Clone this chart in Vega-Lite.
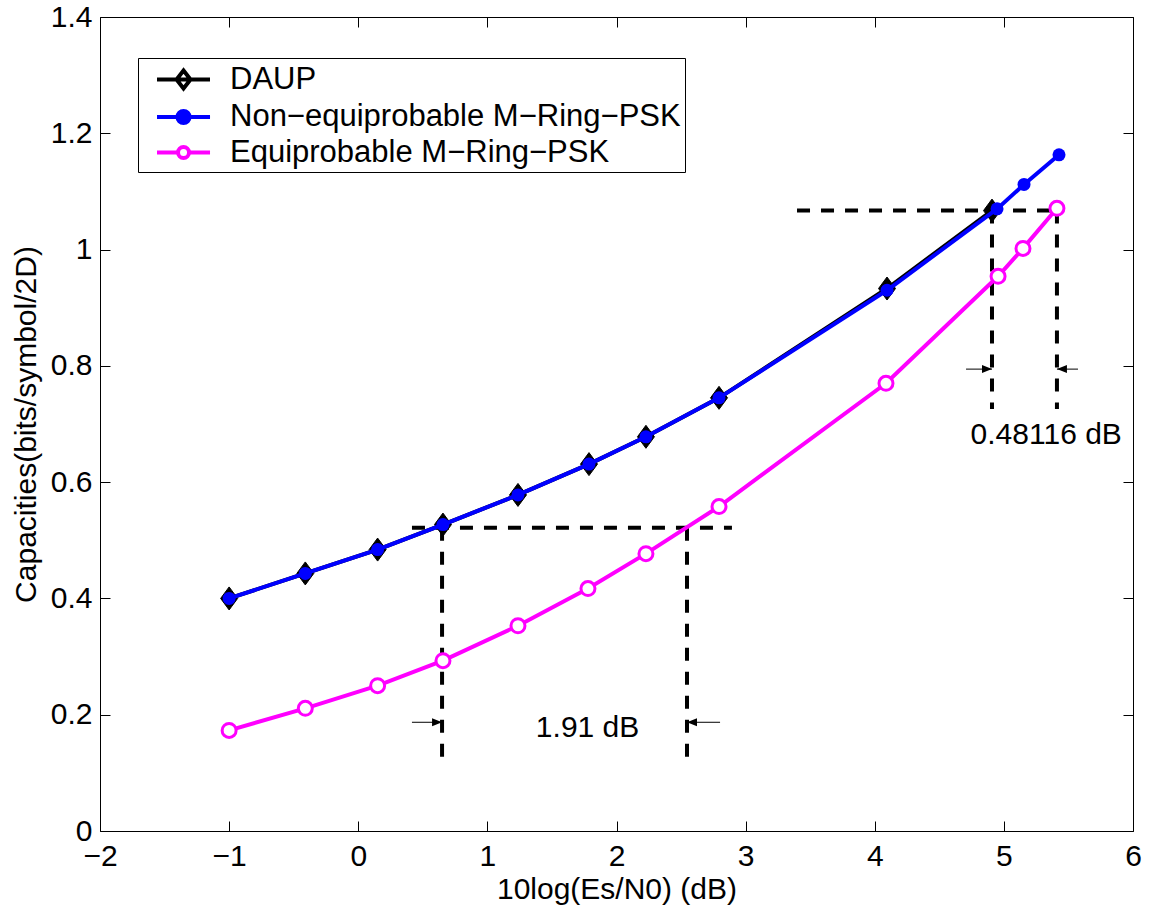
{
  "$schema": "https://vega.github.io/schema/vega-lite/v6.json",
  "width": 1033,
  "height": 814,
  "autosize": {"type": "none"},
  "padding": {"left": 100, "top": 17, "right": 20, "bottom": 78},
  "background": "white",
  "datasets": {
    "curves": [
      {"series": "DAUP", "x": -1.0, "y": 0.400},
      {"series": "DAUP", "x": -0.41, "y": 0.443},
      {"series": "DAUP", "x": 0.15, "y": 0.484},
      {"series": "DAUP", "x": 0.656, "y": 0.527},
      {"series": "DAUP", "x": 1.237, "y": 0.578},
      {"series": "DAUP", "x": 1.787, "y": 0.631},
      {"series": "DAUP", "x": 2.228, "y": 0.678},
      {"series": "DAUP", "x": 2.794, "y": 0.745},
      {"series": "DAUP", "x": 4.095, "y": 0.933},
      {"series": "DAUP", "x": 4.908, "y": 1.067},
      {"series": "Non−equiprobable M−Ring−PSK", "x": -1.0, "y": 0.400},
      {"series": "Non−equiprobable M−Ring−PSK", "x": -0.41, "y": 0.443},
      {"series": "Non−equiprobable M−Ring−PSK", "x": 0.15, "y": 0.484},
      {"series": "Non−equiprobable M−Ring−PSK", "x": 0.656, "y": 0.527},
      {"series": "Non−equiprobable M−Ring−PSK", "x": 1.237, "y": 0.578},
      {"series": "Non−equiprobable M−Ring−PSK", "x": 1.787, "y": 0.631},
      {"series": "Non−equiprobable M−Ring−PSK", "x": 2.228, "y": 0.678},
      {"series": "Non−equiprobable M−Ring−PSK", "x": 2.794, "y": 0.745},
      {"series": "Non−equiprobable M−Ring−PSK", "x": 4.095, "y": 0.930},
      {"series": "Non−equiprobable M−Ring−PSK", "x": 4.947, "y": 1.070},
      {"series": "Non−equiprobable M−Ring−PSK", "x": 5.156, "y": 1.112},
      {"series": "Non−equiprobable M−Ring−PSK", "x": 5.427, "y": 1.163},
      {"series": "Equiprobable M−Ring−PSK", "x": -1.0, "y": 0.173},
      {"series": "Equiprobable M−Ring−PSK", "x": -0.41, "y": 0.211},
      {"series": "Equiprobable M−Ring−PSK", "x": 0.15, "y": 0.250},
      {"series": "Equiprobable M−Ring−PSK", "x": 0.656, "y": 0.293},
      {"series": "Equiprobable M−Ring−PSK", "x": 1.237, "y": 0.353},
      {"series": "Equiprobable M−Ring−PSK", "x": 1.779, "y": 0.417},
      {"series": "Equiprobable M−Ring−PSK", "x": 2.228, "y": 0.477},
      {"series": "Equiprobable M−Ring−PSK", "x": 2.794, "y": 0.558},
      {"series": "Equiprobable M−Ring−PSK", "x": 4.087, "y": 0.770},
      {"series": "Equiprobable M−Ring−PSK", "x": 4.955, "y": 0.954},
      {"series": "Equiprobable M−Ring−PSK", "x": 5.148, "y": 1.002},
      {"series": "Equiprobable M−Ring−PSK", "x": 5.411, "y": 1.071}
    ],
    "guides": [
      {"x": 0.416, "x2": 2.894, "y": 0.5216, "y2": 0.5216},
      {"x": 0.649, "x2": 0.649, "y": 0.5216, "y2": 0.127},
      {"x": 2.546, "x2": 2.546, "y": 0.5216, "y2": 0.127},
      {"x": 3.398, "x2": 5.458, "y": 1.0671, "y2": 1.0671},
      {"x": 4.908, "x2": 4.908, "y": 1.0671, "y2": 0.7257},
      {"x": 5.411, "x2": 5.411, "y": 1.0671, "y2": 0.7257}
    ],
    "arrows": [
      {"from": 0.416, "to": 0.649, "y": 0.187, "dir": "right"},
      {"from": 2.802, "to": 2.546, "y": 0.187, "dir": "left"},
      {"from": 4.707, "to": 4.908, "y": 0.7944, "dir": "right"},
      {"from": 5.574, "to": 5.411, "y": 0.7944, "dir": "left"}
    ],
    "notes": [
      {"x": 1.776, "y": 0.161, "label": "1.91 dB"},
      {"x": 5.328, "y": 0.666, "label": "0.48116 dB"}
    ]
  },
  "layer": [
    {
      "data": {"name": "guides"},
      "mark": {"type": "rule", "color": "black", "strokeWidth": 4, "strokeDash": [13, 11]},
      "encoding": {
        "x": {"field": "x", "type": "quantitative", "scale": {"domain": [-2, 6], "nice": false, "zero": false},
              "axis": {"orient": "top", "labels": false, "title": null, "values": [-2, -1, 0, 1, 2, 3, 4, 5, 6]}},
        "x2": {"field": "x2"},
        "y": {"field": "y", "type": "quantitative", "scale": {"domain": [0, 1.4], "nice": false, "zero": true},
              "axis": {"orient": "right", "labels": false, "title": null, "values": [0, 0.2, 0.4, 0.6, 0.8, 1, 1.2, 1.4]}},
        "y2": {"field": "y2"}
      }
    },
    {
      "data": {"name": "arrows"},
      "mark": {"type": "rule", "color": "black", "strokeWidth": 1},
      "encoding": {
        "x": {"field": "from", "type": "quantitative", "axis": null},
        "x2": {"field": "to"},
        "y": {"field": "y", "type": "quantitative", "axis": null}
      }
    },
    {
      "data": {"name": "arrows"},
      "transform": [{"filter": "datum.dir === 'right'"}],
      "mark": {"type": "point", "shape": "M0,0L-1,-0.4L-1,0.4Z", "size": 400, "filled": true, "fill": "black", "strokeWidth": 0, "opacity": 1},
      "encoding": {
        "x": {"field": "to", "type": "quantitative", "axis": null},
        "y": {"field": "y", "type": "quantitative", "axis": null}
      }
    },
    {
      "data": {"name": "arrows"},
      "transform": [{"filter": "datum.dir === 'left'"}],
      "mark": {"type": "point", "shape": "M0,0L1,-0.4L1,0.4Z", "size": 400, "filled": true, "fill": "black", "strokeWidth": 0, "opacity": 1},
      "encoding": {
        "x": {"field": "to", "type": "quantitative", "axis": null},
        "y": {"field": "y", "type": "quantitative", "axis": null}
      }
    },
    {
      "data": {"name": "notes"},
      "mark": {"type": "text", "font": "Liberation Sans", "fontSize": 30, "align": "center", "baseline": "alphabetic", "color": "black"},
      "encoding": {
        "x": {"field": "x", "type": "quantitative", "axis": null},
        "y": {"field": "y", "type": "quantitative", "axis": null},
        "text": {"field": "label"}
      }
    },
    {
      "data": {"name": "curves"},
      "transform": [{"filter": "indexof(datum.series, 'Equi') === 0"}],
      "mark": {"type": "line", "color": "#ff00ff", "strokeWidth": 4},
      "encoding": {
        "x": {"field": "x", "type": "quantitative",
              "axis": {"orient": "bottom", "title": "10log(Es/N0) (dB)", "values": [-2, -1, 0, 1, 2, 3, 4, 5, 6], "labelPadding": 20, "titleY": 67, "titleBaseline": "alphabetic"}},
        "y": {"field": "y", "type": "quantitative",
              "axis": {"orient": "left", "title": "Capacities(bits/symbol/2D)", "values": [0, 0.2, 0.4, 0.6, 0.8, 1, 1.2, 1.4], "format": "~g", "labelPadding": 18, "titleX": -65, "titleY": 407, "titleBaseline": "alphabetic"}}
      }
    },
    {
      "data": {"name": "curves"},
      "transform": [{"filter": "indexof(datum.series, 'Equi') === 0"}],
      "mark": {"type": "point", "shape": "circle", "size": 196, "filled": true, "fill": "white", "stroke": "#ff00ff", "strokeWidth": 3, "opacity": 1},
      "encoding": {
        "x": {"field": "x", "type": "quantitative", "axis": null},
        "y": {"field": "y", "type": "quantitative", "axis": null}
      }
    },
    {
      "data": {"name": "curves"},
      "transform": [{"filter": "datum.series === 'DAUP'"}],
      "mark": {"type": "line", "color": "black", "strokeWidth": 4},
      "encoding": {
        "x": {"field": "x", "type": "quantitative", "axis": null},
        "y": {"field": "y", "type": "quantitative", "axis": null}
      }
    },
    {
      "data": {"name": "curves"},
      "transform": [{"filter": "datum.series === 'DAUP'"}],
      "mark": {"type": "point", "shape": "M0,-1.15L0.85,0L0,1.15L-0.85,0Z", "size": 400, "filled": true, "fill": "black", "stroke": "black", "strokeWidth": 1, "opacity": 1},
      "encoding": {
        "x": {"field": "x", "type": "quantitative", "axis": null},
        "y": {"field": "y", "type": "quantitative", "axis": null}
      }
    },
    {
      "data": {"name": "curves"},
      "transform": [{"filter": "indexof(datum.series, 'Non') === 0"}],
      "mark": {"type": "line", "color": "#0000ff", "strokeWidth": 4},
      "encoding": {
        "x": {"field": "x", "type": "quantitative", "axis": null},
        "y": {"field": "y", "type": "quantitative", "axis": null}
      }
    },
    {
      "data": {"name": "curves"},
      "transform": [{"filter": "indexof(datum.series, 'Non') === 0"}],
      "mark": {"type": "point", "shape": "circle", "size": 169, "filled": true, "fill": "#0000ff", "strokeWidth": 0, "opacity": 1},
      "encoding": {
        "x": {"field": "x", "type": "quantitative", "axis": null},
        "y": {"field": "y", "type": "quantitative", "axis": null}
      }
    },
    {
      "data": {"name": "curves"},
      "mark": {"type": "point", "size": 961, "strokeWidth": 4, "filled": true, "opacity": 0},
      "encoding": {
        "x": {"field": "x", "type": "quantitative", "axis": null},
        "y": {"field": "y", "type": "quantitative", "axis": null},
        "fill": {"field": "series", "type": "nominal",
                 "scale": {"domain": ["DAUP", "Non−equiprobable M−Ring−PSK", "Equiprobable M−Ring−PSK"], "range": ["white", "#0000ff", "white"]},
                 "legend": {"title": null}},
        "stroke": {"field": "series", "type": "nominal",
                   "scale": {"domain": ["DAUP", "Non−equiprobable M−Ring−PSK", "Equiprobable M−Ring−PSK"], "range": ["black", "#0000ff", "#ff00ff"]},
                   "legend": {"title": null}},
        "shape": {"field": "series", "type": "nominal",
                  "scale": {"domain": ["DAUP", "Non−equiprobable M−Ring−PSK", "Equiprobable M−Ring−PSK"],
                            "range": [
                              "M-0.16,0L3.26,0M1.55,-0.58L2,0L1.55,0.58L1.1,0Z",
                              "M-0.16,0L3.26,0M1.94,0A0.39,0.39,0,1,1,1.16,0A0.39,0.39,0,1,1,1.94,0Z",
                              "M-0.16,0L1.19,0M1.91,0L3.26,0M1.905,0A0.355,0.355,0,1,1,1.195,0A0.355,0.355,0,1,1,1.905,0Z"
                            ]},
                  "legend": {"title": null}}
      }
    }
  ],
  "config": {
    "font": "Liberation Sans",
    "view": {"stroke": "black", "strokeWidth": 1},
    "axis": {
      "grid": false,
      "domain": false,
      "ticks": true,
      "tickSize": -10,
      "tickWidth": 1,
      "tickColor": "black",
      "labelColor": "black",
      "labelFont": "Liberation Sans",
      "labelFontSize": 30,
      "labelFlush": false,
      "labelOverlap": false,
      "titleFont": "Liberation Sans",
      "titleFontSize": 30,
      "titleFontWeight": "normal",
      "titleColor": "black"
    },
    "legend": {
      "orient": "none",
      "legendX": 38,
      "legendY": 41,
      "direction": "vertical",
      "strokeColor": "black",
      "strokeWidth": 1,
      "fillColor": "white",
      "padding": 4,
      "cornerRadius": 0,
      "labelFont": "Liberation Sans",
      "labelFontSize": 31,
      "labelColor": "black",
      "labelLimit": 1000,
      "labelOffset": 53,
      "rowPadding": 2.5,
      "symbolStrokeWidth": 4,
      "symbolSize": 961,
      "symbolOpacity": 1
    }
  }
}
